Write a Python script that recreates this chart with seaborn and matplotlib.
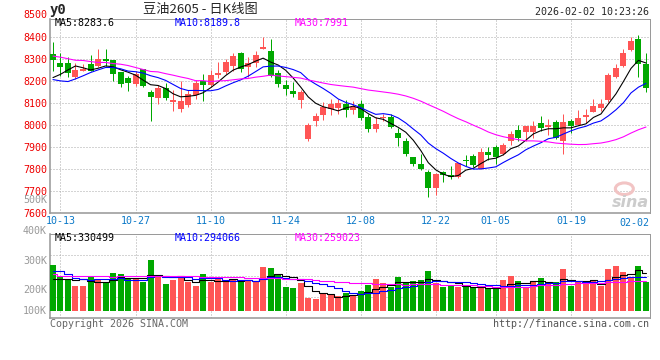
import numpy as np
import pandas as pd
import matplotlib
matplotlib.use("Agg")
import matplotlib.pyplot as plt
from matplotlib.patches import Ellipse
import seaborn as sns

sns.set_style("white")
plt.rcParams["font.family"] = ["DejaVu Sans Mono", "Noto Sans CJK SC"]

holidays = ["2026-01-01", "2026-01-02"]
days = pd.bdate_range("2025-10-10", "2026-02-02")
days = days[~days.isin(pd.to_datetime(holidays))]

open_ = [8325, 8283, 8283, 8219, 8248, 8278, 8272, 8301, 8296, 8242,
         8217, 8188, 8254, 8150, 8123, 8168, 8107, 8074, 8092, 8138,
         8203, 8181, 8229, 8243, 8271, 8328, 8264, 8284, 8348, 8338,
         8239, 8182, 8155, 8115, 7937, 8019, 8046, 8072, 8077, 8098,
         8068, 8095, 8036, 7982, 8031, 8036, 7963, 7926, 7853, 7821,
         7787, 7713, 7787, 7775, 7763, 7838, 7859, 7800, 7879, 7899,
         7867, 7928, 7976, 7970, 7970, 8008, 7992, 8013, 7928, 8018,
         8001, 8039, 8060, 8077, 8115, 8220, 8271, 8344, 8392, 8280]
high = [8379, 8328, 8313, 8283, 8278, 8318, 8347, 8347, 8298, 8242,
        8225, 8248, 8258, 8161, 8184, 8194, 8161, 8203, 8159, 8207,
        8232, 8251, 8289, 8303, 8328, 8333, 8310, 8338, 8400, 8392,
        8251, 8207, 8196, 8161, 8011, 8054, 8104, 8118, 8118, 8114,
        8110, 8115, 8050, 8039, 8050, 8050, 7989, 7943, 7855, 7867,
        7795, 7783, 7790, 7812, 7829, 7864, 7867, 7894, 7902, 7909,
        7917, 7973, 7999, 7998, 8018, 8040, 8028, 8022, 8050, 8028,
        8068, 8072, 8118, 8118, 8237, 8278, 8348, 8400, 8412, 8328]
low = [8248, 8222, 8219, 8211, 8245, 8245, 8267, 8272, 8202, 8174,
       8156, 8179, 8176, 8019, 8097, 8115, 8065, 8060, 8082, 8120,
       8110, 8173, 8214, 8232, 8245, 8243, 8219, 8264, 8346, 8220,
       8173, 8136, 8127, 8078, 7928, 7996, 8024, 8046, 8050, 8037,
       8050, 8024, 7969, 7967, 8021, 7986, 7906, 7859, 7812, 7795,
       7673, 7681, 7742, 7757, 7760, 7813, 7810, 7799, 7841, 7822,
       7864, 7912, 7928, 7928, 7940, 7975, 7954, 7937, 7871, 7963,
       8000, 8008, 8060, 8065, 8107, 8217, 8264, 8338, 8219, 8150]
close = [8298, 8264, 8239, 8251, 8257, 8249, 8301, 8292, 8234, 8188,
         8193, 8234, 8179, 8129, 8170, 8124, 8115, 8109, 8141, 8191,
         8184, 8228, 8239, 8289, 8315, 8254, 8284, 8319, 8356, 8225,
         8188, 8164, 8142, 8150, 8002, 8042, 8085, 8098, 8100, 8068,
         8083, 8031, 7982, 8004, 8034, 7990, 7941, 7871, 7822, 7800,
         7713, 7777, 7772, 7766, 7827, 7835, 7818, 7879, 7864, 7853,
         7912, 7958, 7940, 7996, 7996, 7986, 8002, 7940, 8016, 7996,
         8034, 8045, 8086, 8095, 8228, 8260, 8328, 8382, 8280, 8168]
# Volumen in Tausend
vol_k = [394, 299, 264, 213, 213, 302, 264, 244, 325, 316,
         273, 276, 253, 437, 299, 230, 264, 296, 250, 213,
         316, 253, 279, 247, 279, 253, 270, 250, 377, 368,
         316, 204, 195, 239, 109, 101, 147, 135, 129, 155,
         129, 172, 221, 273, 239, 207, 290, 241, 256, 264,
         342, 241, 207, 216, 204, 213, 201, 201, 195, 195,
         264, 299, 256, 201, 256, 282, 236, 247, 359, 213,
         250, 236, 264, 213, 359, 385, 336, 293, 385, 253]

# MA-Werte am Anfang (Vorgeschichte liegt ausserhalb des Fensters)
ma5_head = [8217, 8232, 8252, 8270]
ma10_head = [8208, 8202, 8199, 8211, 8225, 8240, 8252, 8263, 8263]
ma30_head = [8315, 8310, 8303, 8296, 8295, 8290, 8286, 8286, 8281, 8278,
             8272, 8263, 8254, 8245, 8243, 8235, 8228, 8220, 8213, 8203,
             8203, 8199, 8202, 8203, 8207, 8211, 8213, 8219, 8223]
vma5_head = [279, 280, 276, 264]
vma10_head = [342, 342, 316, 287, 276, 270, 273, 276, 279]
vma30_head = [316, 305, 305, 305, 305, 305, 305, 299, 296, 302,
              302, 302, 302, 299, 299, 299, 299, 299, 299, 299,
              290, 290, 290, 290, 290, 290, 282, 282, 282]

tick_dates = ["10-13", "10-27", "11-10", "11-24", "12-08", "12-22", "01-05", "01-19", "02-02"]
price_ticks = [7600, 7700, 7800, 7900, 8000, 8100, 8200, 8300, 8400]
vol_labels = ["500K", "400K", "300K", "200K", "100K"]

RED = "#ff5555"
GREEN = "#00a800"
GRID = "#aaaaaa"
FRAME = "#9a9a9a"

df = pd.DataFrame({"open": open_, "high": high, "low": low, "close": close, "vol": vol_k}, index=days)
df["x"] = np.arange(len(df))
df["label"] = df.index.strftime("%m-%d")
colors = np.where(df["close"] >= df["open"], RED, GREEN)


def moving(series, n, head):
    m = series.rolling(n).mean()
    m.iloc[:n - 1] = head
    return m.values


ma5 = moving(df["close"], 5, ma5_head)
ma10 = moving(df["close"], 10, ma10_head)
ma30 = moving(df["close"], 30, ma30_head)
vma5 = moving(df["vol"], 5, vma5_head)
vma10 = moving(df["vol"], 10, vma10_head)
vma30 = moving(df["vol"], 30, vma30_head)

# --- Figur ---
W, H = 660, 360
PX = 72 / 100  # ein Pixel in Punkt
fig = plt.figure(figsize=(W / 100, H / 100), dpi=100)


def box(left, top, right, bottom):
    return [left / W, 1 - bottom / H, (right - left) / W, (bottom - top) / H]


axp = fig.add_axes(box(50.5, 19, 649.5, 213))
axv = fig.add_axes(box(50.5, 234, 649.5, 318))

xs = df["x"].values
grid_x = [df.index.get_loc(df.index[df["label"] == d][0]) for d in tick_dates[:-1]]

for ax in (axp, axv):
    ax.set_xlim(-0.33, len(df) - 0.53)
    for gx in grid_x:
        ax.axvline(gx, color=GRID, lw=PX, ls=(0, (1, 2)), zorder=0)
    for side, sp in ax.spines.items():
        sp.set_color(FRAME)
        sp.set_linewidth(1.6 * PX if side in ("left", "bottom") else PX)

# Wasserzeichen
axp.add_patch(Ellipse((0.958, 0.125), 0.03, 0.06, transform=axp.transAxes,
                      facecolor="none", edgecolor="#f2c4c4", lw=2.2, zorder=1))
axp.text(0.999, 0.055, "sina", transform=axp.transAxes, ha="right", va="center", fontsize=11.5,
         color="#cccccc", style="italic", fontweight="bold", family="DejaVu Sans", zorder=1)

# Kerzen
body_lo = np.minimum(df["open"], df["close"])
body_h = np.maximum((df["close"] - df["open"]).abs(), 4.6)
axp.vlines(xs, df["low"], df["high"], colors=colors, lw=PX, zorder=2)
axp.bar(xs, body_h, bottom=body_lo, width=0.8, color=colors, lw=0, zorder=3)

sns.lineplot(x=xs, y=ma5, ax=axp, color="black", lw=PX * 1.1, zorder=4)
sns.lineplot(x=xs, y=ma10, ax=axp, color="#0000ff", lw=PX * 1.1, zorder=4)
sns.lineplot(x=xs, y=ma30, ax=axp, color="#ff00ff", lw=PX * 1.1, zorder=4)

axp.set_ylim(7600, 8484)
for v in price_ticks[1:]:
    axp.axhline(v, color=GRID, lw=PX, ls=(0, (1, 2)), zorder=0)
axp.set_yticks(price_ticks)
axp.set_yticklabels([str(v) for v in price_ticks], color="#ee0000", fontsize=7.2)
axp.text(-3.5 / 599, 8500, "8500", transform=axp.get_yaxis_transform(), ha="right",
         va="center", color="#ee0000", fontsize=7.2, clip_on=False)
axp.set_xticks(grid_x)
axp.set_xticklabels(tick_dates[:-1], color="#0a78c8", fontsize=7.2)
axp.text(1.0, -0.027, tick_dates[-1], transform=axp.transAxes, ha="right", va="top",
         color="#0a78c8", fontsize=7.2)
axp.tick_params(axis="both", length=0, pad=2.5)
axp.set_xlabel("")
axp.set_ylabel("")

# Legende oben
ly = 1 - 4.5 / 194
axp.text(0.0063, ly, "MA5:8283.6", transform=axp.transAxes, va="center", fontsize=7.2, color="black")
axp.text(0.2067, ly, "MA10:8189.8", transform=axp.transAxes, va="center", fontsize=7.2, color="#0000ff")
axp.text(0.408, ly, "MA30:7991", transform=axp.transAxes, va="center", fontsize=7.2, color="#ff00ff")

# Volumen
axv.bar(xs, df["vol"], width=0.8, color=colors, lw=0, zorder=3)
sns.lineplot(x=xs, y=vma5, ax=axv, color="black", lw=PX * 1.1, drawstyle="steps-mid", zorder=4)
sns.lineplot(x=xs, y=vma10, ax=axv, color="#0000ff", lw=PX * 1.1, drawstyle="steps-mid", zorder=4)
sns.lineplot(x=xs, y=vma30, ax=axv, color="#ff00ff", lw=PX * 1.1, drawstyle="steps-mid", zorder=4)
axv.set_ylim(-60, 664)
for f in (0.25, 0.5, 0.75):
    axv.axhline(-60 + f * 724, color=GRID, lw=PX, ls=(0, (1, 2)), zorder=0)
axv.set_xticks([])
axv.set_yticks([])
axv.set_xlabel("")
axv.set_ylabel("")
vy = 1 - 4 / 84
axv.text(0.0063, vy, "MA5:330499", transform=axv.transAxes, va="center", fontsize=7.2, color="black")
axv.text(0.2067, vy, "MA10:294066", transform=axv.transAxes, va="center", fontsize=7.2, color="#0000ff")
axv.text(0.408, vy, "MA30:259023", transform=axv.transAxes, va="center", fontsize=7.2, color="#ff00ff")

for lab, y in zip(vol_labels, [200, 231, 261, 290, 311]):
    fig.text(47 / W, 1 - y / H, lab, ha="right", va="center", fontsize=7.2, color="#999999")

# Kopf und Fuss
fig.text(50 / W, 1 - 10 / H, "y0", ha="left", va="center", fontsize=10, fontweight="bold")
fig.text(200 / W, 1 - 10 / H, "豆油2605 - 日K线图", ha="center", va="center", fontsize=9.5,
         family=["Noto Sans CJK SC", "DejaVu Sans"])
fig.text(649 / W, 1 - 12 / H, "2026-02-02 10:23:26", ha="right", va="center", fontsize=7.2)
fig.text(50 / W, 1 - 324 / H, "Copyright 2026 SINA.COM", ha="left", va="center", fontsize=7.2, color="#666666")
fig.text(649 / W, 1 - 324 / H, "http://finance.sina.com.cn", ha="right", va="center", fontsize=7.2, color="#555555")

fig.savefig("out.png", dpi=100)
plt.close(fig)
